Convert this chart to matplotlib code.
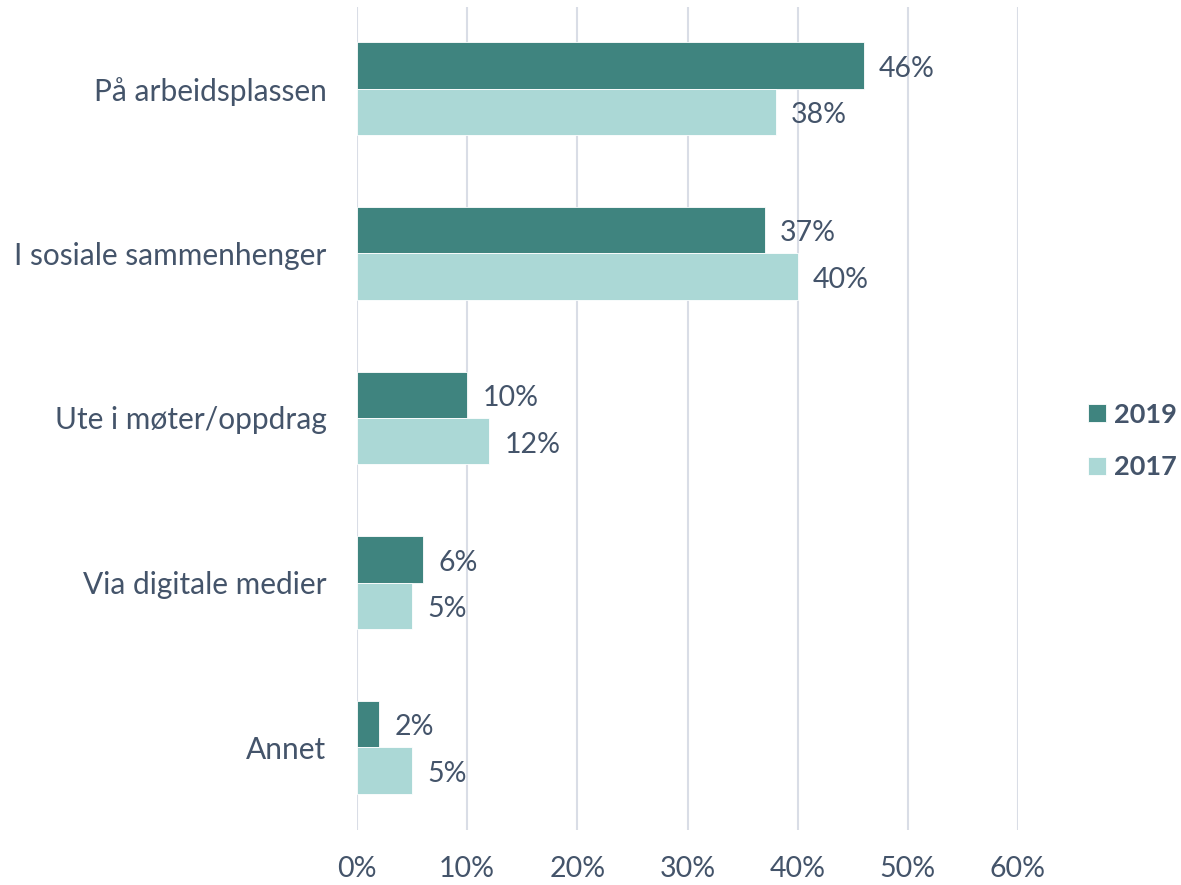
import matplotlib
matplotlib.use("Agg")
import matplotlib.pyplot as plt
import numpy as np

categories = ["På arbeidsplassen", "I sosiale sammenhenger", "Ute i møter/oppdrag",
              "Via digitale medier", "Annet"]
values_2019 = [46, 37, 10, 6, 2]
values_2017 = [38, 40, 12, 5, 5]
series_labels = ["2019", "2017"]
xticks = [0, 10, 20, 30, 40, 50, 60]

c19 = "#3F847F"
c17 = "#ABD8D6"
txt = "#44546A"
grid = "#D9DDE6"

plt.rcParams['font.family'] = ['Lato', 'DejaVu Sans']
fs = 20.5

fig = plt.figure(figsize=(11.81, 8.85), dpi=100)
ax = fig.add_axes([357/1181, 1-829.5/885, (1018-357)/1181, (829.5-6.5)/885])

n = len(categories)
y = np.arange(n)
h = 0.282
ax.barh(y - h/2, values_2019, height=h, color=c19, edgecolor="white", linewidth=0.6, label=series_labels[0], zorder=3)
ax.barh(y + h/2, values_2017, height=h, color=c17, edgecolor="white", linewidth=0.6, label=series_labels[1], zorder=3)

for i in range(n):
    ax.text(values_2019[i] + 1.4, y[i] - h/2 + 0.02, f"{values_2019[i]}%", va="center", ha="left",
            fontsize=fs, color=txt)
    ax.text(values_2017[i] + 1.4, y[i] + h/2 + 0.02, f"{values_2017[i]}%", va="center", ha="left",
            fontsize=fs, color=txt)

ax.set_ylim(n - 0.5, -0.5)
ax.set_xlim(0, 60)
ax.set_yticks(y)
ax.set_yticklabels(categories, fontsize=21.5, color=txt)
ax.set_xticks(xticks)
ax.set_xticklabels([f"{v}%" for v in xticks], fontsize=fs, color=txt)
ax.tick_params(axis="both", length=0)
ax.tick_params(axis="y", pad=22)
ax.tick_params(axis="x", pad=19)
for s in ax.spines.values():
    s.set_visible(False)
ax.xaxis.grid(True, color=grid, linewidth=1.5, zorder=0)
ax.set_axisbelow(True)

leg = fig.legend(loc="center left", bbox_to_anchor=(1088/1181, 1-441/885), frameon=False,
                 prop={"size": 19.5, "weight": "bold"}, handlelength=0.65, handleheight=0.65,
                 handletextpad=0.3, labelspacing=1.05, borderpad=0, borderaxespad=0)
for t in leg.get_texts():
    t.set_color(txt)

fig.savefig("out.png", dpi=100)
